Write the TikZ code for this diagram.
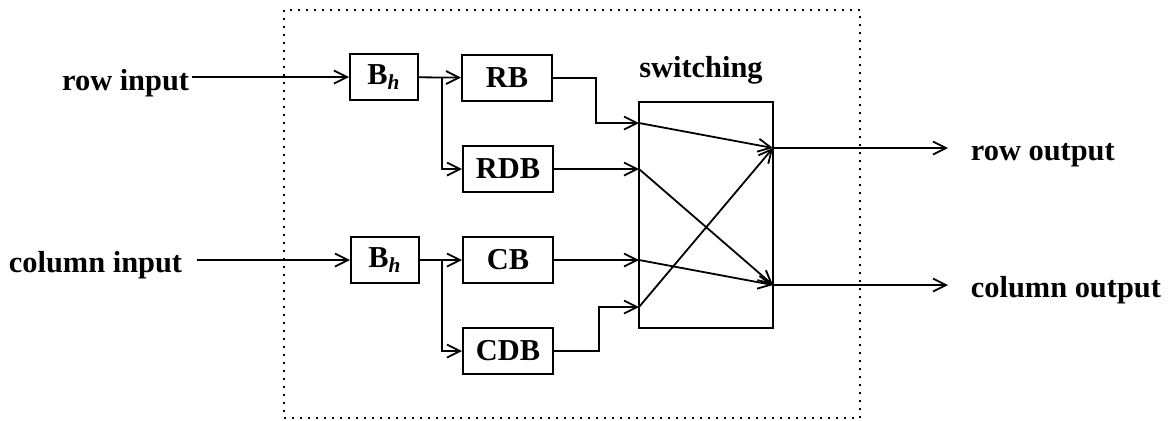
\documentclass[tikz,border=0pt]{standalone}
\usepackage{fontspec}
\setmainfont{Liberation Serif}
\usetikzlibrary{arrows.meta}

\begin{document}
\begin{tikzpicture}[
  x=0.5pt, y=-0.5pt,
  line width=0.9pt,
  >={Straight Barb[length=6.5pt,width=6.5pt]},
  every node/.style={font=\fontsize{15.2}{18}\selectfont\bfseries},
  block/.style={draw, line width=1pt, minimum width=#1, minimum height=23pt, inner sep=0pt},
  lbl/.style={inner sep=0pt}
]
\useasboundingbox (0,0) rectangle (1171,420);
\draw[dash pattern=on 1pt off 3pt, line width=1.3pt] (284,10) rectangle (860,418);

\node[block=34pt] (bh1) at (384,77) {B\textsubscript{\itshape h}};
\node[block=45pt] (rb) at (507,78) {RB};
\node[block=45pt] (rdb) at (508,169) {RDB};
\node[block=34pt] (bh2) at (385,260) {B\textsubscript{\itshape h}};
\node[block=45pt] (cb) at (508,260) {CB};
\node[block=45pt] (cdb) at (508,351) {CDB};
\node[draw, line width=0.7pt, minimum width=67pt, minimum height=113pt, inner sep=0pt] (sw) at (706,215) {};
\node[lbl, anchor=base] (swlbl) at (701,77) {switching};

\node[lbl, anchor=base east] (rowin) at (190,90) {row input};
\node[lbl, anchor=base east] (colin) at (183,272) {column input};
\node[lbl, anchor=base west] (rowout) at (970,160) {row output};
\node[lbl, anchor=base west] (colout) at (970,297) {column output};

\coordinate (ri) at (192,77);
\coordinate (ci) at (197,260);
\coordinate (sp1) at (442,77);
\coordinate (sp2) at (442,260);
\coordinate (i1) at (639,123);
\coordinate (i2) at (639,169);
\coordinate (i3) at (639,260);
\coordinate (i4) at (639,307);
\coordinate (o1) at (773,148);
\coordinate (o2) at (773,285);
\coordinate (e1) at (948,148);
\coordinate (e2) at (948,285);

\draw[->] (ri) -- (bh1);
\draw[->] (ci) -- (bh2);
\draw[->] (bh1) -- (rb);
\draw[->] (sp1) |- (rdb);
\draw[->] (bh2) -- (cb);
\draw[->] (sp2) |- (cdb);
\draw[->] (rb.east) -- ++(43,0) |- (i1);
\draw[->] (rdb) -- (i2);
\draw[->] (cb) -- (i3);
\draw[->] (cdb.east) -- ++(45,0) |- (i4);
\draw[->] (i1) -- (o1);
\draw[->] (i2) -- (o2);
\draw[->] (i3) -- (o2);
\draw[->] (i4) -- (o1);
\draw[->] (o1) -- (e1);
\draw[->] (o2) -- (e2);
\end{tikzpicture}
\end{document}
